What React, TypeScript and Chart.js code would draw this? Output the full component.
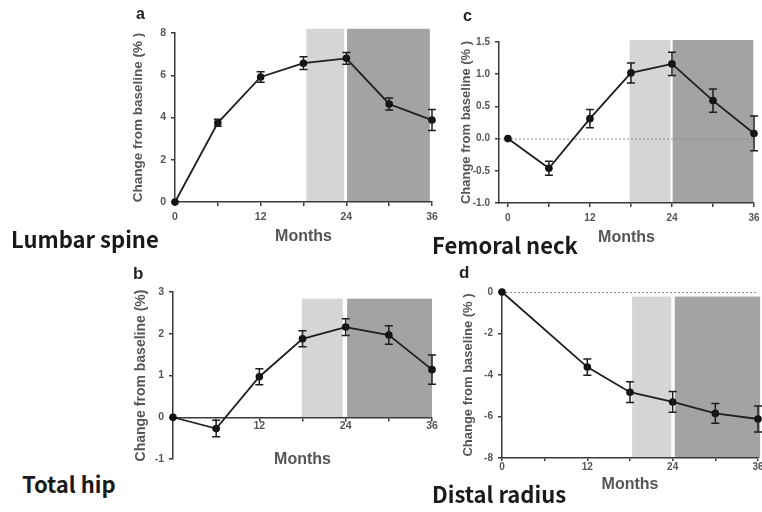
import React, { useEffect, useRef } from "react";
import { Chart, registerables } from "chart.js";
Chart.register(...registerables);

// ---- data ----
const months = [0, 6, 12, 18, 24, 30, 36];
const radiusMonths = [0, 12, 18, 24, 30, 36];

const lumbarMean = [0, 3.75, 5.92, 6.57, 6.8, 4.64, 3.88];
const lumbarErr = [0, 0.17, 0.25, 0.3, 0.28, 0.28, 0.5];
const lumbarLight = [18.4, 23.7];
const lumbarDark = [24.1, 35.7];
const lumbarBandRange = [0, 8.2];

const femoralMean = [0, -0.46, 0.31, 1.02, 1.16, 0.59, 0.08];
const femoralErr = [0, 0.11, 0.14, 0.155, 0.18, 0.18, 0.27];
const femoralLight = [17.8, 23.8];
const femoralDark = [24.1, 35.9];
const femoralBandRange = [-1, 1.53];

const hipMean = [0, -0.27, 0.97, 1.88, 2.16, 1.97, 1.14];
const hipErr = [0, 0.2, 0.19, 0.19, 0.2, 0.22, 0.35];
const hipLight = [17.9, 23.6];
const hipDark = [24.2, 36.0];
const hipBandRange = [0, 2.84];

const radiusMean = [0, -3.62, -4.83, -5.3, -5.85, -6.12];
const radiusErr = [0, 0.39, 0.5, 0.5, 0.48, 0.63];
const radiusLight = [18.3, 23.8];
const radiusDark = [24.3, 36.3];
const radiusBandRange = [-8, -0.22];

const monthTicks = [0, 12, 24, 36];

const LIGHT = "#d5d5d7";
const DARK = "#a3a3a5";
const AXIS = "#3a3a3a";
const TEXT = "#555555";
const LINE = "#1e1e1e";
const FONT = "'Liberation Sans', Arial, sans-serif";

type Spec = {
  box: { left: number; top: number; width: number; height: number };
  pad: { left: number; right: number; top: number; bottom: number };
  yWidth: number;
  xHeight: number;
  xs: number[];
  mean: number[];
  err: number[];
  yMin: number;
  yMax: number;
  yStep: number;
  yDecimals: number;
  xMin: number;
  light: number[];
  dark: number[];
  band: number[];
  zeroLine: boolean;
  xAtZero: boolean;
  hideZeroX: boolean;
  yTitle: string;
  yTitleSize: number;
  tickSize: number;
  xTitlePad: number;
  xTickPad: number;
  xTickLen: number;
};

const specs: Spec[] = [
  {
    box: { left: 120, top: 0, width: 330, height: 250 },
    pad: { left: 10, right: 18, top: 33, bottom: 0 },
    yWidth: 45, xHeight: 48,
    xs: months, mean: lumbarMean, err: lumbarErr,
    yMin: 0, yMax: 8, yStep: 2, yDecimals: 0, xMin: 0,
    light: lumbarLight, dark: lumbarDark, band: lumbarBandRange,
    zeroLine: false, xAtZero: false, hideZeroX: false,
    yTitle: "Change from baseline (% )", yTitleSize: 13.5, tickSize: 10.5,
    xTitlePad: 4, xTickPad: 5, xTickLen: 4,
  },
  {
    box: { left: 440, top: 0, width: 322, height: 260 },
    pad: { left: 19, right: 8, top: 42, bottom: 0 },
    yWidth: 40, xHeight: 57,
    xs: months, mean: femoralMean, err: femoralErr,
    yMin: -1, yMax: 1.5, yStep: 0.5, yDecimals: 1, xMin: -1.3,
    light: femoralLight, dark: femoralDark, band: femoralBandRange,
    zeroLine: true, xAtZero: false, hideZeroX: false,
    yTitle: "Change from baseline (% )", yTitleSize: 13, tickSize: 10,
    xTitlePad: 13, xTickPad: 5, xTickLen: 4,
  },
  {
    box: { left: 120, top: 255, width: 330, height: 257 },
    pad: { left: 13, right: 18, top: 37, bottom: 53 },
    yWidth: 40, xHeight: 54,
    xs: months, mean: hipMean, err: hipErr,
    yMin: -1, yMax: 3, yStep: 1, yDecimals: 0, xMin: 0,
    light: hipLight, dark: hipDark, band: hipBandRange,
    zeroLine: false, xAtZero: true, hideZeroX: true,
    yTitle: "Change from baseline (%)", yTitleSize: 14, tickSize: 10.5,
    xTitlePad: 2, xTickPad: 0, xTickLen: 3,
  },
  {
    box: { left: 440, top: 255, width: 322, height: 257 },
    pad: { left: 21, right: 4, top: 37, bottom: 0 },
    yWidth: 41, xHeight: 54,
    xs: radiusMonths, mean: radiusMean, err: radiusErr,
    yMin: -8, yMax: 0, yStep: 2, yDecimals: 0, xMin: 0,
    light: radiusLight, dark: radiusDark, band: radiusBandRange,
    zeroLine: true, xAtZero: false, hideZeroX: false,
    yTitle: "Change from baseline (% )", yTitleSize: 13, tickSize: 10,
    xTitlePad: 18, xTickPad: 0, xTickLen: 3,
  },
];

function Panel({ s }: { s: Spec }) {
  const ref = useRef<HTMLCanvasElement>(null);
  useEffect(() => {
    const plugin = {
      id: "bandsAndErrors",
      beforeDraw(chart: any) {
        const { ctx, scales } = chart;
        const x = scales.x;
        const y = scales.y;
        const yTop = y.getPixelForValue(s.band[1]);
        const yBot = y.getPixelForValue(s.band[0]);
        ctx.save();
        ctx.fillStyle = LIGHT;
        const l0 = x.getPixelForValue(s.light[0]);
        const l1 = x.getPixelForValue(s.light[1]);
        ctx.fillRect(l0, yTop, l1 - l0, yBot - yTop);
        ctx.fillStyle = DARK;
        const d0 = x.getPixelForValue(s.dark[0]);
        const d1 = x.getPixelForValue(s.dark[1]);
        ctx.fillRect(d0, yTop, d1 - d0, yBot - yTop);
        if (s.zeroLine) {
          const y0 = y.getPixelForValue(0);
          ctx.strokeStyle = "#8a8a8a";
          ctx.lineWidth = 1;
          ctx.setLineDash([2, 2]);
          ctx.beginPath();
          ctx.moveTo(chart.chartArea.left, y0 + 0.5);
          ctx.lineTo(chart.chartArea.right, y0 + 0.5);
          ctx.stroke();
        }
        ctx.restore();
      },
      afterDatasetsDraw(chart: any) {
        const { ctx, scales } = chart;
        const x = scales.x;
        const y = scales.y;
        ctx.save();
        ctx.strokeStyle = LINE;
        ctx.lineWidth = 1.5;
        s.xs.forEach((m, i) => {
          if (!s.err[i]) return;
          const px = x.getPixelForValue(m);
          const a = y.getPixelForValue(s.mean[i] + s.err[i]);
          const b = y.getPixelForValue(s.mean[i] - s.err[i]);
          ctx.beginPath();
          ctx.moveTo(px, a);
          ctx.lineTo(px, b);
          ctx.moveTo(px - 4, a);
          ctx.lineTo(px + 4, a);
          ctx.moveTo(px - 4, b);
          ctx.lineTo(px + 4, b);
          ctx.stroke();
        });
        ctx.restore();
      },
    };

    const chart = new Chart(ref.current as HTMLCanvasElement, {
      type: "line",
      data: {
        datasets: [
          {
            data: s.xs.map((m, i) => ({ x: m, y: s.mean[i] })),
            borderColor: LINE,
            backgroundColor: LINE,
            borderWidth: 1.8,
            pointRadius: 3.8,
            pointBackgroundColor: "#111",
            pointBorderColor: "#111",
            pointBorderWidth: 0,
            tension: 0,
            clip: false as any,
          },
        ],
      },
      options: {
        responsive: false,
        animation: false,
        events: [],
        layout: { padding: s.pad },
        plugins: { legend: { display: false }, tooltip: { enabled: false } },
        scales: {
          x: {
            type: "linear",
            position: s.xAtZero ? ({ y: 0 } as any) : "bottom",
            min: s.xMin,
            max: 36,
            afterBuildTicks: (scale: any) => {
              scale.ticks = months.map((v) => ({ value: v }));
            },
            ticks: {
              autoSkip: false,
              maxRotation: 0,
              padding: s.xTickPad,
              color: TEXT,
              font: { family: FONT, size: s.tickSize, weight: "bold" },
              callback: (v: any) => {
                const n = Number(v);
                if (!monthTicks.includes(n)) return "";
                if (s.hideZeroX && n === 0) return "";
                return String(n);
              },
            },
            grid: {
              drawOnChartArea: false,
              drawTicks: true,
              tickLength: s.xTickLen,
              color: AXIS,
              lineWidth: 1.5,
            },
            border: { display: true, color: AXIS, width: 1.5 },
            title: {
              display: true,
              text: "Months",
              color: TEXT,
              font: { family: FONT, size: 16, weight: "bold" },
              padding: { top: 0, bottom: s.xTitlePad },
            },
            afterFit: (scale: any) => {
              scale.height = s.xHeight;
              scale.paddingLeft = 0;
              scale.paddingRight = 0;
            },
          } as any,
          y: {
            type: "linear",
            min: s.yMin,
            max: s.yMax,
            ticks: {
              stepSize: s.yStep,
              padding: 5,
              color: TEXT,
              font: { family: FONT, size: s.tickSize, weight: "bold" },
              callback: (v: any) => Number(v).toFixed(s.yDecimals),
            },
            grid: {
              drawOnChartArea: false,
              drawTicks: true,
              tickLength: 4,
              color: AXIS,
              lineWidth: 1.5,
            },
            border: { display: true, color: AXIS, width: 1.5 },
            title: {
              display: true,
              text: s.yTitle,
              color: TEXT,
              font: { family: FONT, size: s.yTitleSize, weight: "bold" },
              padding: 0,
            },
            afterFit: (scale: any) => {
              scale.width = s.yWidth;
              scale.paddingTop = 0;
              scale.paddingBottom = 0;
            },
          } as any,
        },
      },
      plugins: [plugin],
    });
    return () => chart.destroy();
  }, []);
  return (
    <canvas
      ref={ref}
      width={s.box.width}
      height={s.box.height}
      style={{
        position: "absolute",
        left: s.box.left,
        top: s.box.top,
        width: s.box.width,
        height: s.box.height,
      }}
    />
  );
}

const letters = [
  { t: "a", left: 136, top: 6, size: 16 },
  { t: "c", left: 463, top: 8, size: 16 },
  { t: "b", left: 133, top: 265, size: 17 },
  { t: "d", left: 459, top: 264, size: 17 },
];

const names = [
  { t: "Lumbar spine", left: 11, top: 226.5 },
  { t: "Femoral neck", left: 432, top: 232.5 },
  { t: "Total hip", left: 22, top: 471.5 },
  { t: "Distal radius", left: 432, top: 481.5 },
];

export default function App() {
  return (
    <div
      style={{
        position: "absolute",
        left: 0,
        top: 0,
        width: 762,
        height: 512,
        background: "#fff",
        overflow: "hidden",
      }}
    >
      {specs.map((s, i) => (
        <Panel key={i} s={s} />
      ))}
      {letters.map((l) => (
        <div
          key={l.t}
          style={{
            position: "absolute",
            left: l.left,
            top: l.top,
            fontFamily: FONT,
            fontWeight: 700,
            fontSize: l.size,
            lineHeight: 1,
            color: "#222",
            whiteSpace: "nowrap",
          }}
        >
          {l.t}
        </div>
      ))}
      {names.map((n) => (
        <div
          key={n.t}
          style={{
            position: "absolute",
            left: n.left,
            top: n.top,
            fontFamily: "'Noto Sans CJK KR', 'Noto Sans', sans-serif",
            fontWeight: 700,
            fontSize: 22,
            lineHeight: 1,
            color: "#1a1a1a",
            whiteSpace: "nowrap",
          }}
        >
          {n.t}
        </div>
      ))}
    </div>
  );
}
